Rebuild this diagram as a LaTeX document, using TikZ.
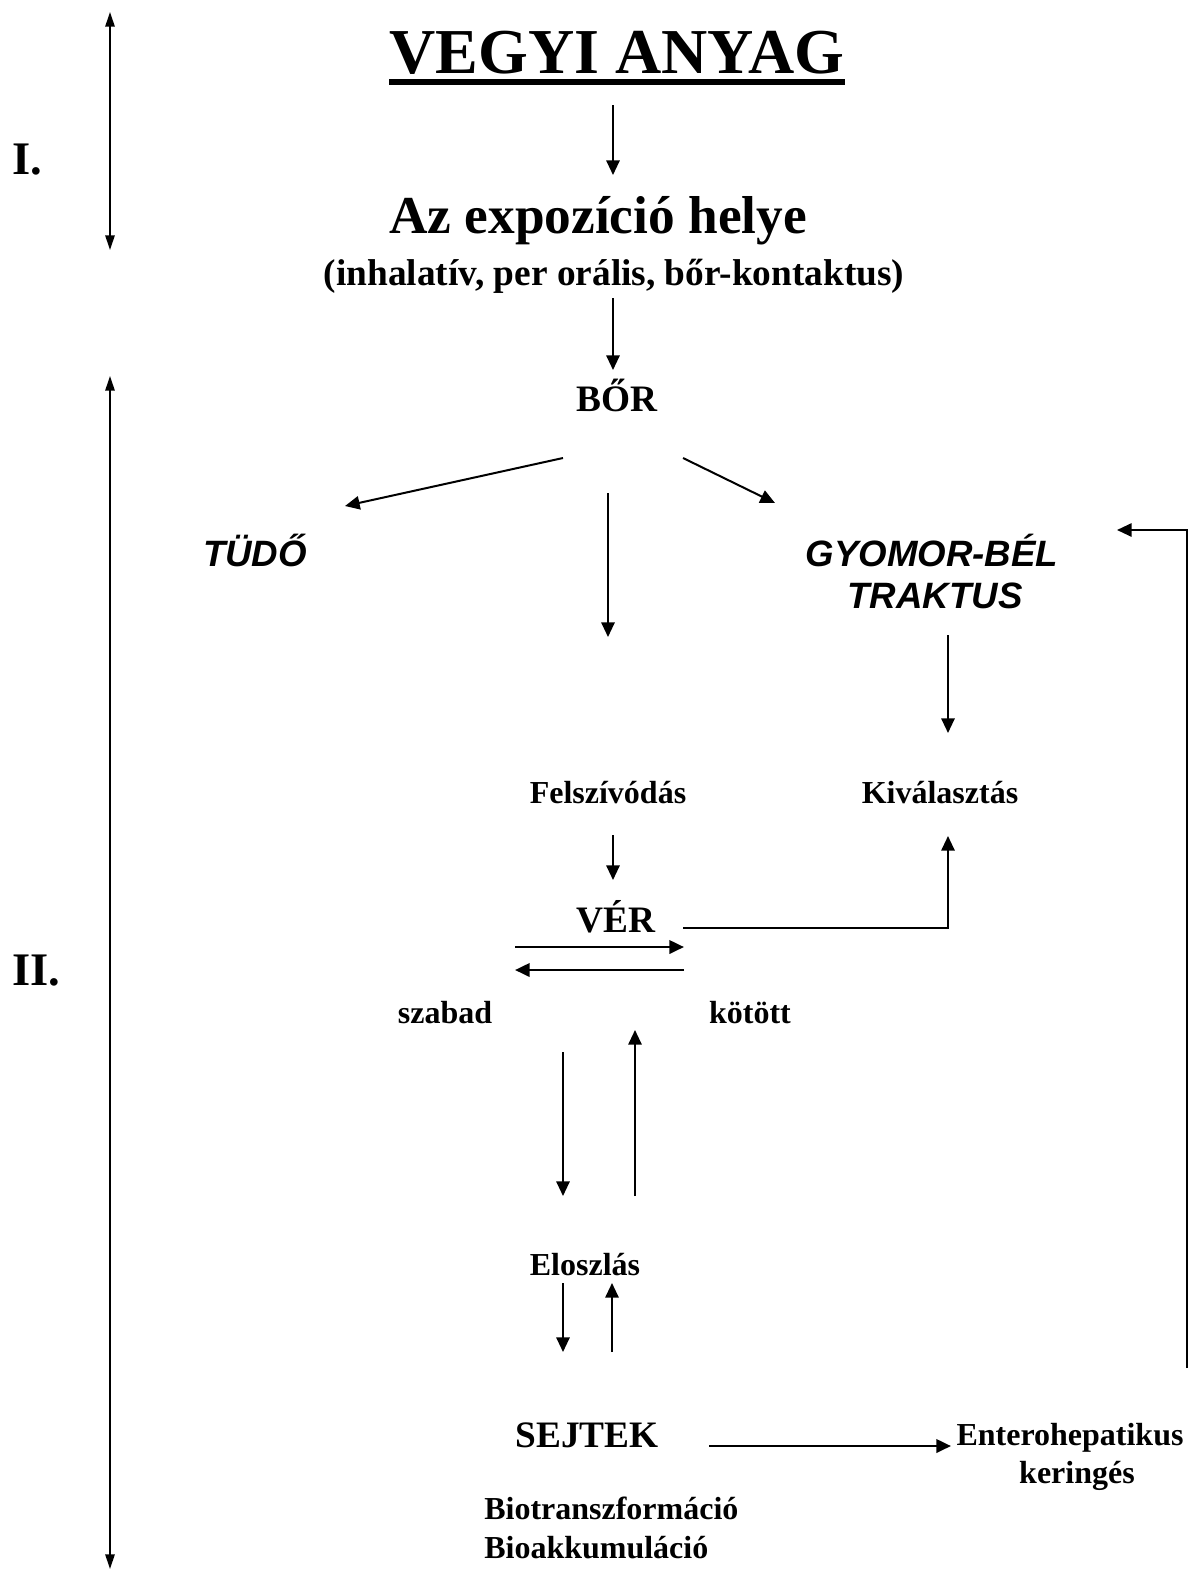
\documentclass[tikz,border=0pt]{standalone}
\usepackage{fontspec}
\setmainfont{Liberation Serif}
\setsansfont{Liberation Sans}
\usetikzlibrary{arrows.meta,positioning,calc}

\begin{document}
\begin{tikzpicture}[x=0.75pt,y=-0.75pt,
  txt/.style={inner sep=0pt,anchor=base},
  huge/.style={txt,font=\bfseries\fontsize{48}{56}\selectfont},
  head/.style={txt,font=\bfseries\fontsize{40}{48}\selectfont},
  big/.style={txt,font=\bfseries\fontsize{28}{34}\selectfont},
  mid/.style={txt,font=\bfseries\fontsize{24}{29}\selectfont},
  roman/.style={txt,anchor=base west,font=\bfseries\fontsize{35}{42}\selectfont},
  organ/.style={txt,font=\sffamily\bfseries\itshape\fontsize{27.5}{33}\selectfont},
  a/.style={-{Triangle[length=11pt,width=10pt]},line width=1.5pt},
  span/.style={{Triangle[length=11pt,width=7pt]}-{Triangle[length=11pt,width=7pt]},line width=1.3pt}]
  \useasboundingbox (0,0) rectangle (1191,1571);
  % phase labels
  \node[roman] (ph1) at (12,174) {I.};
  \node[roman] (ph2) at (12,985) {II.};
  \coordinate (ph1top) at (110,12); \coordinate (ph1bot) at (110,250);
  \coordinate (ph2top) at (110,376); \coordinate (ph2bot) at (110,1569);
  \draw[span] (ph1top) -- (ph1bot);
  \draw[span] (ph2top) -- (ph2bot);
  % texts
  \node[huge] (anyag) at (617,73) {VEGYI ANYAG};
  \fill ($(anyag.base west)+(0,6)$) rectangle ($(anyag.base east)+(0,12)$);
  \node[head] (hely) at (598,233) {Az expozíció helye};
  \node[big] (utak) at (614,285) {(inhalatív, per orális, bőr-kontaktus)};
  \node[big] (bor) at (617,411) {BŐR};
  \node[organ] (tudo) at (255,566) {TÜDŐ};
  \node[organ] (gyomor) at (932,566) {GYOMOR-BÉL};
  \node[organ] (traktus) at (935,608) {TRAKTUS};
  \node[mid] (felsz) at (608,803) {Felszívódás};
  \node[mid] (kival) at (940,803) {Kiválasztás};
  \node[big] (ver) at (616,932) {VÉR};
  \node[mid] (szabad) at (445,1023) {szabad};
  \node[mid] (kotott) at (750,1023) {kötött};
  \node[mid] (eloszl) at (585,1275) {Eloszlás};
  \node[big] (sejtek) at (587,1447) {SEJTEK};
  \node[mid] (entero) at (1070,1445) {Enterohepatikus};
  \node[mid] (kering) at (1077,1483) {keringés};
  \node[mid,anchor=base west] (biotr) at (484,1519) {Biotranszformáció};
  \node[mid,anchor=base west] (bioak) at (484,1558) {Bioakkumuláció};
  % arrow ends
  \coordinate (c1) at (613,105);  \coordinate (c2) at (613,175);
  \coordinate (c3) at (613,298);  \coordinate (c4) at (613,370);
  \coordinate (c5) at (563,458);  \coordinate (c6) at (345,506);
  \coordinate (c7) at (608,493);  \coordinate (c8) at (608,637);
  \coordinate (c9) at (683,458);  \coordinate (c10) at (775,503);
  \coordinate (c11) at (948,635); \coordinate (c12) at (948,733);
  \coordinate (c13) at (613,835); \coordinate (c14) at (613,880);
  \coordinate (c15) at (683,928); \coordinate (c16) at (948,836);
  \coordinate (c17) at (515,947); \coordinate (c18) at (684,947);
  \coordinate (c19) at (684,970); \coordinate (c20) at (515,970);
  \coordinate (c21) at (563,1052); \coordinate (c22) at (563,1196);
  \coordinate (c23) at (635,1196); \coordinate (c24) at (635,1030);
  \coordinate (c25) at (563,1283); \coordinate (c26) at (563,1352);
  \coordinate (c27) at (612,1352); \coordinate (c28) at (612,1283);
  \coordinate (c29) at (709,1446); \coordinate (c30) at (951,1446);
  \coordinate (c31) at (1187,1368); \coordinate (c32) at (1117,530);
  % connectors
  \draw[a] (c1) -- (c2);
  \draw[a] (c3) -- (c4);
  \draw[a] (c5) -- (c6);
  \draw[a] (c7) -- (c8);
  \draw[a] (c9) -- (c10);
  \draw[a] (c11) -- (c12);
  \draw[a] (c13) -- (c14);
  \draw[a] (c15) -| (c16);
  \draw[a,line width=2pt] (c17) -- (c18);
  \draw[a,line width=2pt] (c19) -- (c20);
  \draw[a] (c21) -- (c22);
  \draw[a] (c23) -- (c24);
  \draw[a] (c25) -- (c26);
  \draw[a] (c27) -- (c28);
  \draw[a,line width=2pt] (c29) -- (c30);
  \draw[a] (c31) |- (c32);
\end{tikzpicture}
\end{document}
